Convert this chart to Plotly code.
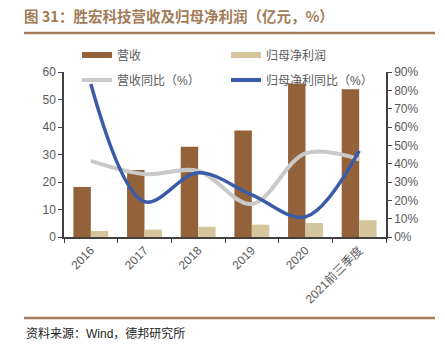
import plotly.graph_objects as go

categories = ["2016", "2017", "2018", "2019", "2020", "2021前三季度"]
revenue = [18.2, 24.4, 32.8, 38.7, 55.8, 53.7]
net_profit = [2.2, 2.7, 3.7, 4.5, 5.1, 6.1]
revenue_yoy = [0.415, 0.343, 0.360, 0.180, 0.456, 0.424]
profit_yoy = [0.835, 0.193, 0.350, 0.230, 0.110, 0.470]

C_REV = "#93613a"
C_NP = "#d5c59c"
C_GRAY = "#c9c9c9"
C_BLUE = "#3a5ca8"
TXT = "#595959"
FONT = "Liberation Sans, Noto Sans CJK SC, sans-serif"

fig = go.Figure()
fig.add_trace(go.Bar(x=categories, y=revenue, marker_color=C_REV, showlegend=False,
                     marker_line_width=0, yaxis="y"))
fig.add_trace(go.Bar(x=categories, y=net_profit, marker_color=C_NP, showlegend=False,
                     marker_line_width=0, yaxis="y"))
fig.add_trace(go.Scatter(x=categories, y=revenue_yoy, mode="lines", yaxis="y2",
                         line=dict(color=C_GRAY, width=4, shape="spline", smoothing=1),
                         showlegend=False))
fig.add_trace(go.Scatter(x=categories, y=profit_yoy, mode="lines", yaxis="y2",
                         line=dict(color=C_BLUE, width=3.5, shape="spline", smoothing=1),
                         showlegend=False))

# legend entries
fig.add_trace(go.Scatter(x=[None], y=[None], mode="lines", name="营收",
                         line=dict(color=C_REV, width=6), legend="legend"))
fig.add_trace(go.Scatter(x=[None], y=[None], mode="lines", name="归母净利润",
                         line=dict(color=C_NP, width=6), legend="legend"))
fig.add_trace(go.Scatter(x=[None], y=[None], mode="lines", name="营收同比（%）",
                         line=dict(color=C_GRAY, width=4), legend="legend2"))
fig.add_trace(go.Scatter(x=[None], y=[None], mode="lines", name="归母净利同比（%）",
                         line=dict(color=C_BLUE, width=4), legend="legend2"))

PW, PH = 322, 165
leg_common = dict(orientation="h", xref="paper", yref="paper",
                  xanchor="left", yanchor="middle", bgcolor="rgba(0,0,0,0)",
                  font=dict(family=FONT, size=12, color=TXT),
                  entrywidth=104, entrywidthmode="pixels", itemwidth=30,
                  tracegroupgap=0)

fig.update_layout(
    width=445, height=354,
    margin=dict(l=64, r=59, t=72, b=117, autoexpand=False),
    paper_bgcolor="white", plot_bgcolor="white",
    barmode="group", bargap=0.35, bargroupgap=0,
    font=dict(family=FONT, color=TXT, size=12),
    legend=dict(x=(77 - 64) / PW, y=(237 - 55) / PH, **leg_common),
    legend2=dict(x=(77 - 64) / PW, y=(237 - 80) / PH, **leg_common),
    xaxis=dict(type="category", tickson="boundaries", ticks="outside", ticklen=4,
               tickcolor="#404040", showline=True, linecolor="#404040", linewidth=1.5,
               tickangle=-45, tickfont=dict(size=12, color=TXT), showgrid=False),
    yaxis=dict(range=[0, 60], dtick=10, ticks="outside", ticklen=4, tickcolor="#404040",
               showline=True, linecolor="#404040", linewidth=1.5, showgrid=False,
               zeroline=False, tickfont=dict(size=12, color=TXT)),
    yaxis2=dict(range=[0, 0.9], dtick=0.1, tickformat=".0%", overlaying="y", side="right",
                ticks="outside", ticklen=4, tickcolor="#404040", showline=True,
                linecolor="#404040", linewidth=1.5, showgrid=False, zeroline=False,
                tickfont=dict(size=12, color=TXT)),
    title=dict(text="<b>图 31：胜宏科技营收及归母净利润（亿元，%）</b>",
               x=24/445, xanchor="left", y=1 - 17/354, yanchor="middle",
               xref="container", yref="container",
               font=dict(family="Noto Sans CJK SC, sans-serif", size=14.5, color="#a27b58")),
)

fig.add_shape(type="line", xref="paper", yref="paper",
              x0=(24 - 64) / PW, x1=(435 - 64) / PW,
              y0=(237 - 33) / PH, y1=(237 - 33) / PH,
              line=dict(color="#a27b58", width=2.5))
fig.add_shape(type="line", xref="paper", yref="paper",
              x0=(24 - 64) / PW, x1=(435 - 64) / PW,
              y0=(237 - 318) / PH, y1=(237 - 318) / PH,
              line=dict(color="#a27b58", width=2.5))
fig.add_annotation(text="资料来源：Wind，德邦研究所", xref="paper", yref="paper",
                   x=(24 - 64) / PW, xanchor="left", y=(237 - 333) / PH, yanchor="middle",
                   showarrow=False, font=dict(family=FONT, size=12, color="#222222"))

fig.write_html("out.html")
